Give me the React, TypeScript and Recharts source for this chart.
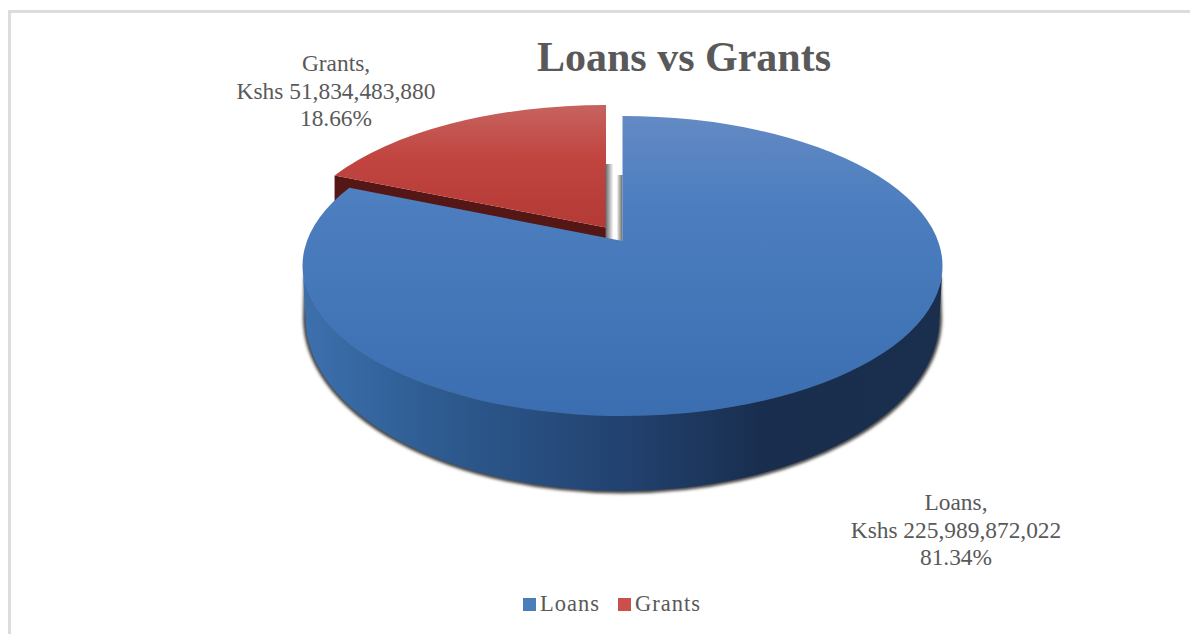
import { Legend, Pie, PieChart } from 'recharts';

const categories = ['Grants', 'Loans'];
const amounts = [51834483880, 225989872022];
const amountLabels = ['Kshs 51,834,483,880', 'Kshs 225,989,872,022'];
const percentLabels = ['18.66%', '81.34%'];
const legendColors = ['#c9504c', '#4a7ebb'];

const data = categories.map((name, i) => ({
  name,
  value: amounts[i],
  amount: amountLabels[i],
  percent: percentLabels[i],
  fill: legendColors[i],
}));

const WIDTH = 1190;
const HEIGHT = 634;
const CX = 622.5;
const CY = 266;
const RX = 320;
const RY = 150;
const TILT = 25 / 150; // the apex sits above the centre of the outline
const EXPLODE = { x: -16.5, y: -14, rx: 318, ry: 147 };
const WALL = { rx: 317, ry: 173, cy: 318 };
const FONT = '"Liberation Serif", serif';
const TEXT = '#595959';

const total = amounts.reduce((a, b) => a + b, 0);
const startAngle = 90 + (360 * amounts[0]) / total;

// pie angle -> point on the tilted rim, in unit coordinates
const warp = (deg: number) => {
  const u = Math.cos((deg * Math.PI) / 180);
  const v = Math.sin((deg * Math.PI) / 180);
  const d = 1 + TILT * v;
  return { u: (u * Math.sqrt(1 - TILT * TILT)) / d, v: (v + TILT) / d };
};

const Slice = (props: any) => {
  const { startAngle: a0, endAngle: a1, name } = props;
  const isLoans = name === 'Loans';
  const dx = isLoans ? 0 : EXPLODE.x;
  const dy = isLoans ? 0 : EXPLODE.y;
  const rx = isLoans ? RX : EXPLODE.rx;
  const ry = isLoans ? RY : EXPLODE.ry;
  const p0 = warp(a0);
  const p1 = warp(a1);
  const x0 = CX + dx + rx * p0.u;
  const y0 = CY + dy - ry * p0.v;
  const x1 = CX + dx + rx * p1.u;
  const y1 = CY + dy - ry * p1.v;
  const ax = CX + dx;
  const ay = CY + dy - ry * TILT;
  const large = a0 - a1 > 180 ? 1 : 0;
  const top = `M${ax} ${ay}L${x0} ${y0}A${rx} ${ry} 0 ${large} 1 ${x1} ${y1}Z`;

  if (!isLoans) {
    const depth = 75;
    const wall = `M${x0} ${y0}L${ax} ${ay}L${ax} ${ay + depth}L${x0} ${y0 + depth}Z`;
    return (
      <g>
        <path d={wall} fill="#541715" />
        <path d={top} fill="url(#grantsTop)" />
      </g>
    );
  }

  const left = CX - WALL.rx;
  const right = CX + WALL.rx;
  const bottomArc = `L${left} ${WALL.cy}A${WALL.rx} ${WALL.ry} 0 0 0 ${right} ${WALL.cy}`;
  const side =
    `M${CX - RX} ${CY}${bottomArc}` +
    `L${CX + RX} ${CY}A${RX} ${RY} 0 0 1 ${CX - RX} ${CY}Z`;
  const shadow = `M${CX - RX + 4} ${CY + 12}${bottomArc}L${CX + RX - 4} ${CY + 12}Z`;
  return (
    <g>
      <rect x={CX - 17} y={CY - 102} width={8} height={77} fill="url(#gapLeft)" />
      <rect x={CX - 6} y={CY - 91} width={6} height={66} fill="url(#gapRight)" />
      <path d={shadow} fill="#444" stroke="#444" strokeWidth={5} filter="url(#rimShadow)" />
      <path d={side} fill="url(#loansSide)" />
      <path d={top} fill="url(#loansTop)" />
    </g>
  );
};

const renderLabel = (props: any) => {
  const { name, amount, percent } = props.payload ?? props;
  const isLoans = name === 'Loans';
  const x = isLoans ? 956 : 336;
  const y = isLoans ? 510 : 71;
  return (
    <text x={x} y={y} textAnchor="middle" fontFamily={FONT} fontSize={23.4} fill={TEXT}>
      <tspan x={x}>{name},</tspan>
      <tspan x={x} dy={27.5}>{amount}</tspan>
      <tspan x={x} dy={27.5}>{percent}</tspan>
    </text>
  );
};

const renderLegend = () => (
  <div style={{ display: 'flex', alignItems: 'center', fontFamily: FONT, fontSize: 22.5, color: TEXT, letterSpacing: 1 }}>
    {[1, 0].map((i) => (
      <span key={categories[i]} style={{ display: 'flex', alignItems: 'center', marginRight: 18 }}>
        <span style={{ width: 13, height: 13, background: legendColors[i], marginRight: 4 }} />
        {categories[i]}
      </span>
    ))}
  </div>
);

export default function App() {
  return (
    <div style={{ position: 'absolute', left: 0, top: 0, width: WIDTH, height: HEIGHT, overflow: 'hidden', background: '#fff' }}>
      <div style={{ position: 'absolute', left: 8, top: 10, right: 0, bottom: 0, borderLeft: '3px solid #dcdcdc', borderTop: '3px solid #dcdcdc' }} />
      <PieChart width={WIDTH} height={HEIGHT} margin={{ top: 0, right: 0, bottom: 0, left: 0 }} style={{ position: 'absolute', left: 0, top: 0 }}>
        <defs>
          <linearGradient id="loansTop" gradientUnits="userSpaceOnUse" x1="0" y1="116" x2="0" y2="416">
            <stop offset="0" stopColor="#638ac4" />
            <stop offset="0.3" stopColor="#4c7ebf" />
            <stop offset="1" stopColor="#3a6eb0" />
          </linearGradient>
          <linearGradient id="grantsTop" gradientUnits="userSpaceOnUse" x1="0" y1="107" x2="0" y2="235">
            <stop offset="0" stopColor="#c6625e" />
            <stop offset="0.4" stopColor="#c1443f" />
            <stop offset="1" stopColor="#b23935" />
          </linearGradient>
          <linearGradient id="loansSide" gradientUnits="userSpaceOnUse" x1="305" y1="0" x2="940" y2="0">
            <stop offset="0" stopColor="#3c70ad" />
            <stop offset="0.22" stopColor="#2d5a8f" />
            <stop offset="0.5" stopColor="#224270" />
            <stop offset="0.72" stopColor="#192e4e" />
            <stop offset="1" stopColor="#1a2f4d" />
          </linearGradient>
          <linearGradient id="gapLeft" x1="0" y1="0" x2="1" y2="0">
            <stop offset="0" stopColor="#666" />
            <stop offset="1" stopColor="#fff" />
          </linearGradient>
          <linearGradient id="gapRight" x1="0" y1="0" x2="1" y2="0">
            <stop offset="0" stopColor="#fff" />
            <stop offset="1" stopColor="#666" />
          </linearGradient>
          <filter id="rimShadow" x="-5%" y="-5%" width="110%" height="110%">
            <feGaussianBlur stdDeviation="1.5" />
          </filter>
        </defs>
        <text x={684} y={71} textAnchor="middle" fontFamily={FONT} fontSize={42} fontWeight="bold" fill={TEXT}>
          Loans vs Grants
        </text>
        <Pie
          data={data}
          dataKey="value"
          nameKey="name"
          cx={CX}
          cy={CY}
          outerRadius={RY}
          startAngle={startAngle}
          endAngle={startAngle - 360}
          shape={Slice}
          label={renderLabel}
          labelLine={false}
          stroke="none"
          isAnimationActive={false}
        />
        <Legend
          content={renderLegend}
          layout="horizontal"
          align="left"
          verticalAlign="top"
          wrapperStyle={{ left: 523, top: 591, width: 240 }}
        />
      </PieChart>
    </div>
  );
}
